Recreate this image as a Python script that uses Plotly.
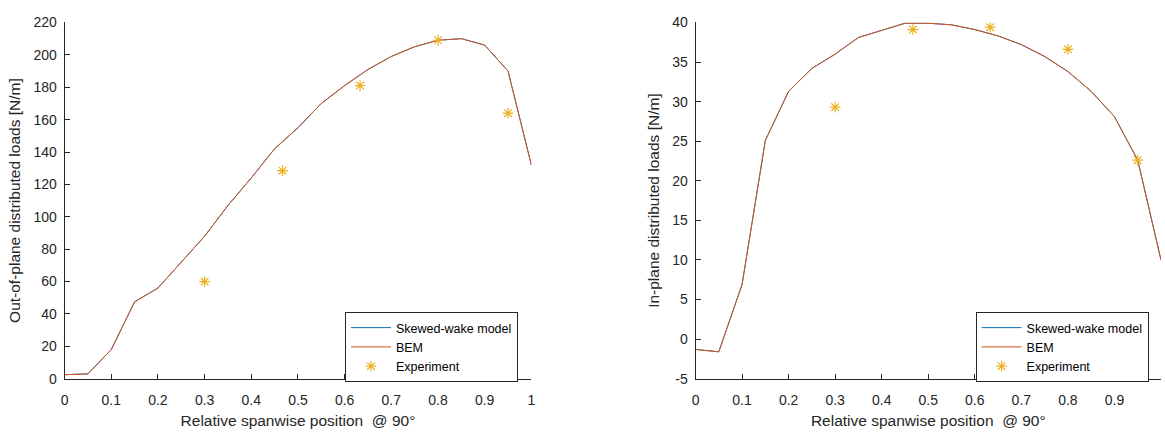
import plotly.graph_objects as go

# ---- data ----
span = [0, 0.05, 0.1, 0.15, 0.2, 0.25, 0.3, 0.35, 0.4, 0.45, 0.5,
        0.55, 0.6, 0.65, 0.7, 0.75, 0.8, 0.85, 0.9, 0.95, 1.0]

out_skewed = [2.5, 3, 18, 47.5, 56, 72, 88, 107, 124, 142, 155,
              170, 181, 191, 199, 205, 209, 210, 206, 190, 132]
out_bem = [2.5, 3, 18, 47.5, 56, 72, 88, 107, 124, 142, 155,
           170, 181, 191, 199, 205, 209, 210, 206, 190, 132]

in_skewed = [-1.3, -1.6, 6.9, 25.1, 31.3, 34.2, 36.0, 38.1, 39.0, 39.9, 39.9,
             39.7, 39.1, 38.3, 37.2, 35.7, 33.8, 31.3, 28.1, 22.6, 10.0]
in_bem = [-1.3, -1.6, 6.9, 25.1, 31.3, 34.2, 36.0, 38.1, 39.0, 39.9, 39.9,
          39.7, 39.1, 38.3, 37.2, 35.7, 33.8, 31.3, 28.1, 22.6, 10.0]

exp_span = [0.3, 0.467, 0.633, 0.8, 0.95]
exp_out = [60, 128.5, 181, 209, 164]
exp_in = [29.3, 39.1, 39.4, 36.6, 22.6]

x_ticks = [0, 0.1, 0.2, 0.3, 0.4, 0.5, 0.6, 0.7, 0.8, 0.9, 1]
x_ticklabels = ["0", "0.1", "0.2", "0.3", "0.4", "0.5", "0.6", "0.7", "0.8", "0.9", "1"]
out_ticks = [0, 20, 40, 60, 80, 100, 120, 140, 160, 180, 200, 220]
out_ticklabels = ["0", "20", "40", "60", "80", "100", "120", "140", "160", "180", "200", "220"]
in_ticks = [-5, 0, 5, 10, 15, 20, 25, 30, 35, 40]
in_ticklabels = ["-5", "0", "5", "10", "15", "20", "25", "30", "35", "40"]

# ---- style ----
BLUE = "#0072BD"
ORANGE = "#D95319"
YELLOW = "#EDB120"
AX = "#262626"
FONT = "Arial, Liberation Sans, sans-serif"

fig = go.Figure()

def add_panel(xa, ya, leg, y1, y2, ye):
    fig.add_trace(go.Scatter(x=span, y=y1, mode="lines", name="Skewed-wake model",
                             line=dict(color=BLUE, width=1), xaxis=xa, yaxis=ya, legend=leg))
    fig.add_trace(go.Scatter(x=span, y=y2, mode="lines", name="BEM",
                             line=dict(color=ORANGE, width=1), xaxis=xa, yaxis=ya, legend=leg))
    fig.add_trace(go.Scatter(x=exp_span, y=ye, mode="markers", name="Experiment",
                             marker=dict(symbol="asterisk-open", size=9, color=YELLOW,
                                         line=dict(color=YELLOW, width=1.2)),
                             xaxis=xa, yaxis=ya, legend=leg))

add_panel("x", "y", "legend", out_skewed, out_bem, exp_out)
add_panel("x2", "y2", "legend2", in_skewed, in_bem, exp_in)

W, H = 1165, 432
ydom = [1 - 385 / H, 1 - 15 / H]

common_x = dict(range=[0, 1], tickmode="array", tickvals=x_ticks, ticktext=x_ticklabels,
                ticks="inside", ticklen=5, tickcolor=AX, showline=True, linecolor=AX,
                linewidth=1, showgrid=False, zeroline=False, ticklabelstandoff=8,
                tickfont=dict(family=FONT, size=14, color=AX),
                title=dict(text="Relative spanwise position\u00a0\u00a0@ 90°",
                           font=dict(family=FONT, size=15.5, color=AX), standoff=8))
common_y = dict(ticks="inside", ticklen=5, tickcolor=AX, showline=True, linecolor=AX,
                linewidth=1, showgrid=False, zeroline=False, ticklabelstandoff=4,
                tickfont=dict(family=FONT, size=14, color=AX))
leg_common = dict(xanchor="left", yanchor="top", bgcolor="white", bordercolor=AX,
                  borderwidth=1, itemwidth=40,
                  font=dict(family=FONT, size=12.5, color="black"), tracegroupgap=0)

fig.update_layout(
    width=W, height=H, margin=dict(l=0, r=0, t=0, b=0),
    paper_bgcolor="white", plot_bgcolor="white",
    font=dict(family=FONT, color=AX),
    xaxis=dict(domain=[61 / W, 531 / W], anchor="y", **common_x),
    yaxis=dict(domain=ydom, anchor="x", range=[0, 220], tickmode="array",
               tickvals=out_ticks, ticktext=out_ticklabels,
               title=dict(text="Out-of-plane distributed loads [N/m]",
                          font=dict(family=FONT, size=15.5, color=AX), standoff=8),
               **common_y),
    xaxis2=dict(domain=[696.3 / W, 1.0], anchor="y2", **common_x),
    yaxis2=dict(domain=ydom, anchor="x2", range=[-5, 40], tickmode="array",
                tickvals=in_ticks, ticktext=in_ticklabels,
                title=dict(text="In-plane distributed loads [N/m]",
                           font=dict(family=FONT, size=15.5, color=AX), standoff=8),
                **common_y),
    legend=dict(x=343.3 / W, y=1 - 315.7 / H, **leg_common),
    legend2=dict(x=978.3 / W, y=1 - 315.7 / H, **leg_common),
    showlegend=True,
)

fig.write_html("out.html")
